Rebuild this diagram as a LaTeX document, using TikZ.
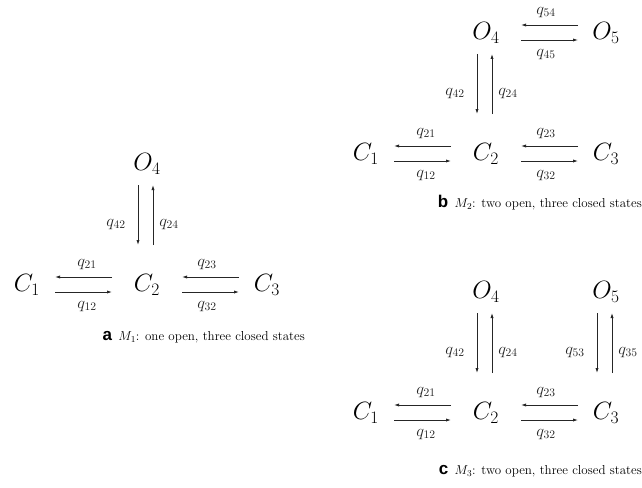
\RequirePackage{fix-cm}
\documentclass[tikz,border=0pt]{standalone}
\usepackage{amsmath}
\usepackage{fontspec}
\newfontfamily\panelfont{Liberation Sans}
\usepackage{tikz}
\usetikzlibrary{matrix,arrows.meta}
\newcommand\panellabel[1]{{\fontsize{17}{17}\panelfont\bfseries #1}}

\tikzset{
  states/.style={
    matrix of math nodes,
    column sep=80pt,
    row sep=91pt,
    nodes={minimum width=40pt, minimum height=30pt, inner sep=0pt,
      font=\fontsize{25}{30}\selectfont},
  },
  trans/.style={-{Latex[length=5pt,width=3.2pt]}, line width=0.8pt, black!85},
  inward/.style={trans, shorten <=28pt, shorten >=35pt},
  outward/.style={trans, shorten <=35pt, shorten >=28pt},
  fall/.style={trans, shorten <=21pt, shorten >=40pt},
  rise/.style={trans, shorten <=40pt, shorten >=21pt},
  rate/.style={inner sep=0pt, font=\fontsize{16.5}{20}\selectfont},
  caption/.style={inner sep=0pt, font=\fontsize{13}{15}\selectfont},
}

\begin{document}
\begin{tikzpicture}[x=1pt,y=-1pt]
\useasboundingbox (0,0) rectangle (642,487);

\matrix (a) [states, matrix anchor=a-2-2.center] at (147,285) {
    & O_4 &     \\
C_1 &[7pt] C_2 & C_3 \\
};
\draw[inward] ([yshift=-7pt]a-2-1.center) -- node[rate,below=9pt]{$q_{12}$} ([yshift=-7pt]a-2-2.center);
\draw[outward] ([yshift=8pt]a-2-2.center) -- node[rate,above=7pt]{$q_{21}$} ([yshift=8pt]a-2-1.center);
\draw[inward] ([yshift=8pt]a-2-3.center) -- node[rate,above=7pt]{$q_{23}$} ([yshift=8pt]a-2-2.center);
\draw[outward] ([yshift=-7pt]a-2-2.center) -- node[rate,below=9pt]{$q_{32}$} ([yshift=-7pt]a-2-3.center);
\draw[fall] ([xshift=-9pt]a-1-2.center) -- node[rate,left=12pt]{$q_{42}$} ([xshift=-9pt]a-2-2.center);
\draw[rise] ([xshift=6pt]a-2-2.center) -- node[rate,right=6pt]{$q_{24}$} ([xshift=6pt]a-1-2.center);
\node[caption, anchor=east] (capa) at (305,337) {\panellabel{a}\enspace $M_1$: one open, three closed states};

\matrix (b) [states, matrix anchor=b-2-2.center] at (486,154) {
    & O_4 & O_5 \\
C_1 &[7pt] C_2 & C_3 \\
};
\draw[inward] ([yshift=-7pt]b-2-1.center) -- node[rate,below=9pt]{$q_{12}$} ([yshift=-7pt]b-2-2.center);
\draw[outward] ([yshift=8pt]b-2-2.center) -- node[rate,above=7pt]{$q_{21}$} ([yshift=8pt]b-2-1.center);
\draw[inward] ([yshift=8pt]b-2-3.center) -- node[rate,above=7pt]{$q_{23}$} ([yshift=8pt]b-2-2.center);
\draw[outward] ([yshift=-7pt]b-2-2.center) -- node[rate,below=9pt]{$q_{32}$} ([yshift=-7pt]b-2-3.center);
\draw[inward] ([yshift=8pt]b-1-3.center) -- node[rate,above=7pt]{$q_{54}$} ([yshift=8pt]b-1-2.center);
\draw[outward] ([yshift=-7pt]b-1-2.center) -- node[rate,below=9pt]{$q_{45}$} ([yshift=-7pt]b-1-3.center);
\draw[fall] ([xshift=-9pt]b-1-2.center) -- node[rate,left=12pt]{$q_{42}$} ([xshift=-9pt]b-2-2.center);
\draw[rise] ([xshift=6pt]b-2-2.center) -- node[rate,right=6pt]{$q_{24}$} ([xshift=6pt]b-1-2.center);
\node[caption, anchor=east] (capb) at (642,203) {\panellabel{b}\enspace $M_2$: two open, three closed states};

\matrix (c) [states, matrix anchor=c-2-2.center] at (486,413) {
    & O_4 & O_5 \\
C_1 &[7pt] C_2 & C_3 \\
};
\draw[inward] ([yshift=-7pt]c-2-1.center) -- node[rate,below=9pt]{$q_{12}$} ([yshift=-7pt]c-2-2.center);
\draw[outward] ([yshift=8pt]c-2-2.center) -- node[rate,above=7pt]{$q_{21}$} ([yshift=8pt]c-2-1.center);
\draw[inward] ([yshift=8pt]c-2-3.center) -- node[rate,above=7pt]{$q_{23}$} ([yshift=8pt]c-2-2.center);
\draw[outward] ([yshift=-7pt]c-2-2.center) -- node[rate,below=9pt]{$q_{32}$} ([yshift=-7pt]c-2-3.center);
\draw[fall] ([xshift=-9pt]c-1-2.center) -- node[rate,left=12pt]{$q_{42}$} ([xshift=-9pt]c-2-2.center);
\draw[rise] ([xshift=6pt]c-2-2.center) -- node[rate,right=6pt]{$q_{24}$} ([xshift=6pt]c-1-2.center);
\draw[fall] ([xshift=-9pt]c-1-3.center) -- node[rate,left=12pt]{$q_{53}$} ([xshift=-9pt]c-2-3.center);
\draw[rise] ([xshift=6pt]c-2-3.center) -- node[rate,right=6pt]{$q_{35}$} ([xshift=6pt]c-1-3.center);
\node[caption, anchor=east] (capc) at (642,471) {\panellabel{c}\enspace $M_3$: two open, three closed states};
\end{tikzpicture}
\end{document}
